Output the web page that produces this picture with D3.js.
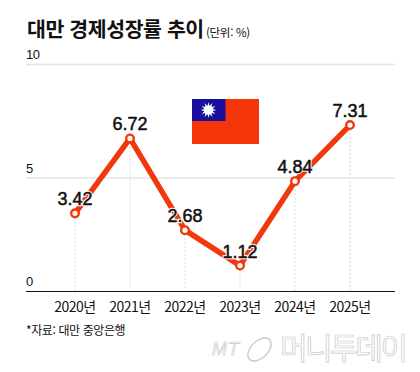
<!DOCTYPE html>
<html lang="ko">

<head>
    <meta charset="UTF-8">
    <title>대만 경제성장률 추이</title>
    <script src="https://d3js.org/d3.v7.min.js"></script>
    <style>
        html, body { margin: 0; padding: 0; background: #fff; }
        svg { display: block; }
        text { font-family: "Noto Sans CJK KR", "Liberation Sans", sans-serif; fill: #111; }
        .num { font-family: "Liberation Sans", "Noto Sans CJK KR", sans-serif; }
        .val { font-family: "Liberation Sans Narrow", "Liberation Sans", sans-serif; }
    </style>
</head>

<body>
    <div id="chart"></div>

    <script>
        const years = ["2020년", "2021년", "2022년", "2023년", "2024년", "2025년"];
        const growth = [3.42, 6.72, 2.68, 1.12, 4.84, 7.31];
        const yTicks = [0, 5, 10];

        const titleText = "대만 경제성장률 추이";
        const unitText = "(단위: %)";
        const sourceText = "*자료: 대만 중앙은행";

        const width = 420, height = 372;
        const plotLeft = 26, plotRight = 395, plotTop = 64, plotBottom = 291;

        const svg = d3.select("#chart").append("svg")
            .attr("width", width)
            .attr("height", height);

        const xScale = d3.scalePoint()
            .domain(years)
            .range([75, 350]);

        const yScale = d3.scaleLinear()
            .domain([0, 10])
            .range([plotBottom, plotTop]);

        // Title
        svg.append("text").attr("x", 27).attr("y", 37)
            .attr("font-size", 20.5).attr("font-weight", 700)
            .attr("letter-spacing", -0.4)
            .text(titleText);
        svg.append("text").attr("x", 206).attr("y", 37)
            .attr("font-size", 11.5).attr("letter-spacing", -0.3)
            .text(unitText);

        // Horizontal grid + y labels
        yTicks.forEach(t => {
            svg.append("line")
                .attr("x1", plotLeft).attr("x2", plotRight)
                .attr("y1", yScale(t) + 0.5).attr("y2", yScale(t) + 0.5)
                .attr("stroke", t === 0 ? "#111" : "#e4e4e4")
                .attr("stroke-width", t === 0 ? 1 : 1.4);
            svg.append("text").attr("class", "num")
                .attr("x", 26).attr("y", yScale(t) - 5)
                .attr("font-size", 13).attr("letter-spacing", -0.5)
                .text(t);
        });

        // Dotted drop lines
        svg.selectAll(".drop").data(years).join("line")
            .attr("class", "drop")
            .attr("x1", d => xScale(d)).attr("x2", d => xScale(d))
            .attr("y1", (d, i) => yScale(growth[i]))
            .attr("y2", plotBottom)
            .attr("stroke", "#e6e6e6")
            .attr("stroke-width", 1.5)
            .attr("stroke-dasharray", "2,2");

        // x labels
        svg.selectAll(".xlab").data(years).join("text")
            .attr("class", "xlab")
            .attr("x", d => xScale(d)).attr("y", 312)
            .attr("text-anchor", "middle")
            .attr("font-size", 14).attr("letter-spacing", -0.5)
            .text(d => d);

        // Flag
        const flag = svg.append("g").attr("transform", "translate(192,99)");
        flag.append("rect").attr("width", 67).attr("height", 45).attr("fill", "#f5360a");
        flag.append("rect").attr("width", 33.5).attr("height", 22).attr("fill", "#1a0f9c");
        const sun = flag.append("g").attr("transform", "translate(16.5,11)");
        d3.range(12).forEach(i => {
            sun.append("path")
                .attr("d", "M-2,0L0,-8L2,0Z")
                .attr("fill", "#fff")
                .attr("transform", "rotate(" + (i * 30) + ")");
        });
        sun.append("circle").attr("r", 4.6).attr("fill", "#fff");

        // Line
        const line = d3.line()
            .x((d, i) => xScale(years[i]))
            .y(d => yScale(d));

        svg.append("path")
            .datum(growth)
            .attr("fill", "none")
            .attr("stroke", "#f0380c")
            .attr("stroke-width", 5.5)
            .attr("stroke-linejoin", "round")
            .attr("d", line);

        svg.selectAll(".pt").data(growth).join("circle")
            .attr("class", "pt")
            .attr("cx", (d, i) => xScale(years[i]))
            .attr("cy", d => yScale(d))
            .attr("r", 3.8)
            .attr("fill", "#fff")
            .attr("stroke", "#f0380c")
            .attr("stroke-width", 2.4);

        // Value labels, white halo first so the line breaks behind the numbers
        svg.selectAll(".halo").data(growth).join("text")
            .attr("class", "halo val")
            .attr("x", (d, i) => xScale(years[i]))
            .attr("y", d => yScale(d) - 8)
            .attr("text-anchor", "middle")
            .attr("font-size", 18)
            .style("fill", "#fff")
            .attr("stroke", "#fff").attr("stroke-width", 2.5)
            .text(d => d.toFixed(2));

        svg.selectAll(".lab").data(growth).join("text")
            .attr("class", "lab val")
            .attr("x", (d, i) => xScale(years[i]))
            .attr("y", d => yScale(d) - 8)
            .attr("text-anchor", "middle")
            .attr("font-size", 18)
            .attr("stroke", "#111").attr("stroke-width", 0.5)
            .text(d => d.toFixed(2));

        // Source
        svg.append("text").attr("x", 26).attr("y", 335)
            .attr("font-size", 12).attr("letter-spacing", -0.4)
            .text(sourceText);

        // Watermark
        const mark = svg.append("g");
        mark.append("text").attr("class", "num").attr("x", 212).attr("y", 355)
            .attr("font-size", 18).attr("font-style", "italic")
            .attr("letter-spacing", 1)
            .style("fill", "#fff").attr("stroke", "#c4c4c4").attr("stroke-width", 0.6)
            .text("MT");
        mark.append("ellipse")
            .attr("cx", 259.5).attr("cy", 349.5).attr("rx", 14).attr("ry", 8.5)
            .attr("transform", "rotate(-45 259.5 349.5)")
            .attr("fill", "none").attr("stroke", "#d0d0d0").attr("stroke-width", 1.6);
        mark.append("text").attr("x", 280).attr("y", 359)
            .attr("font-size", 30).attr("letter-spacing", -2.5)
            .style("fill", "#fff").attr("stroke", "#c8c8c8").attr("stroke-width", 0.7)
            .text("머니투데이");
    </script>
</body>

</html>
